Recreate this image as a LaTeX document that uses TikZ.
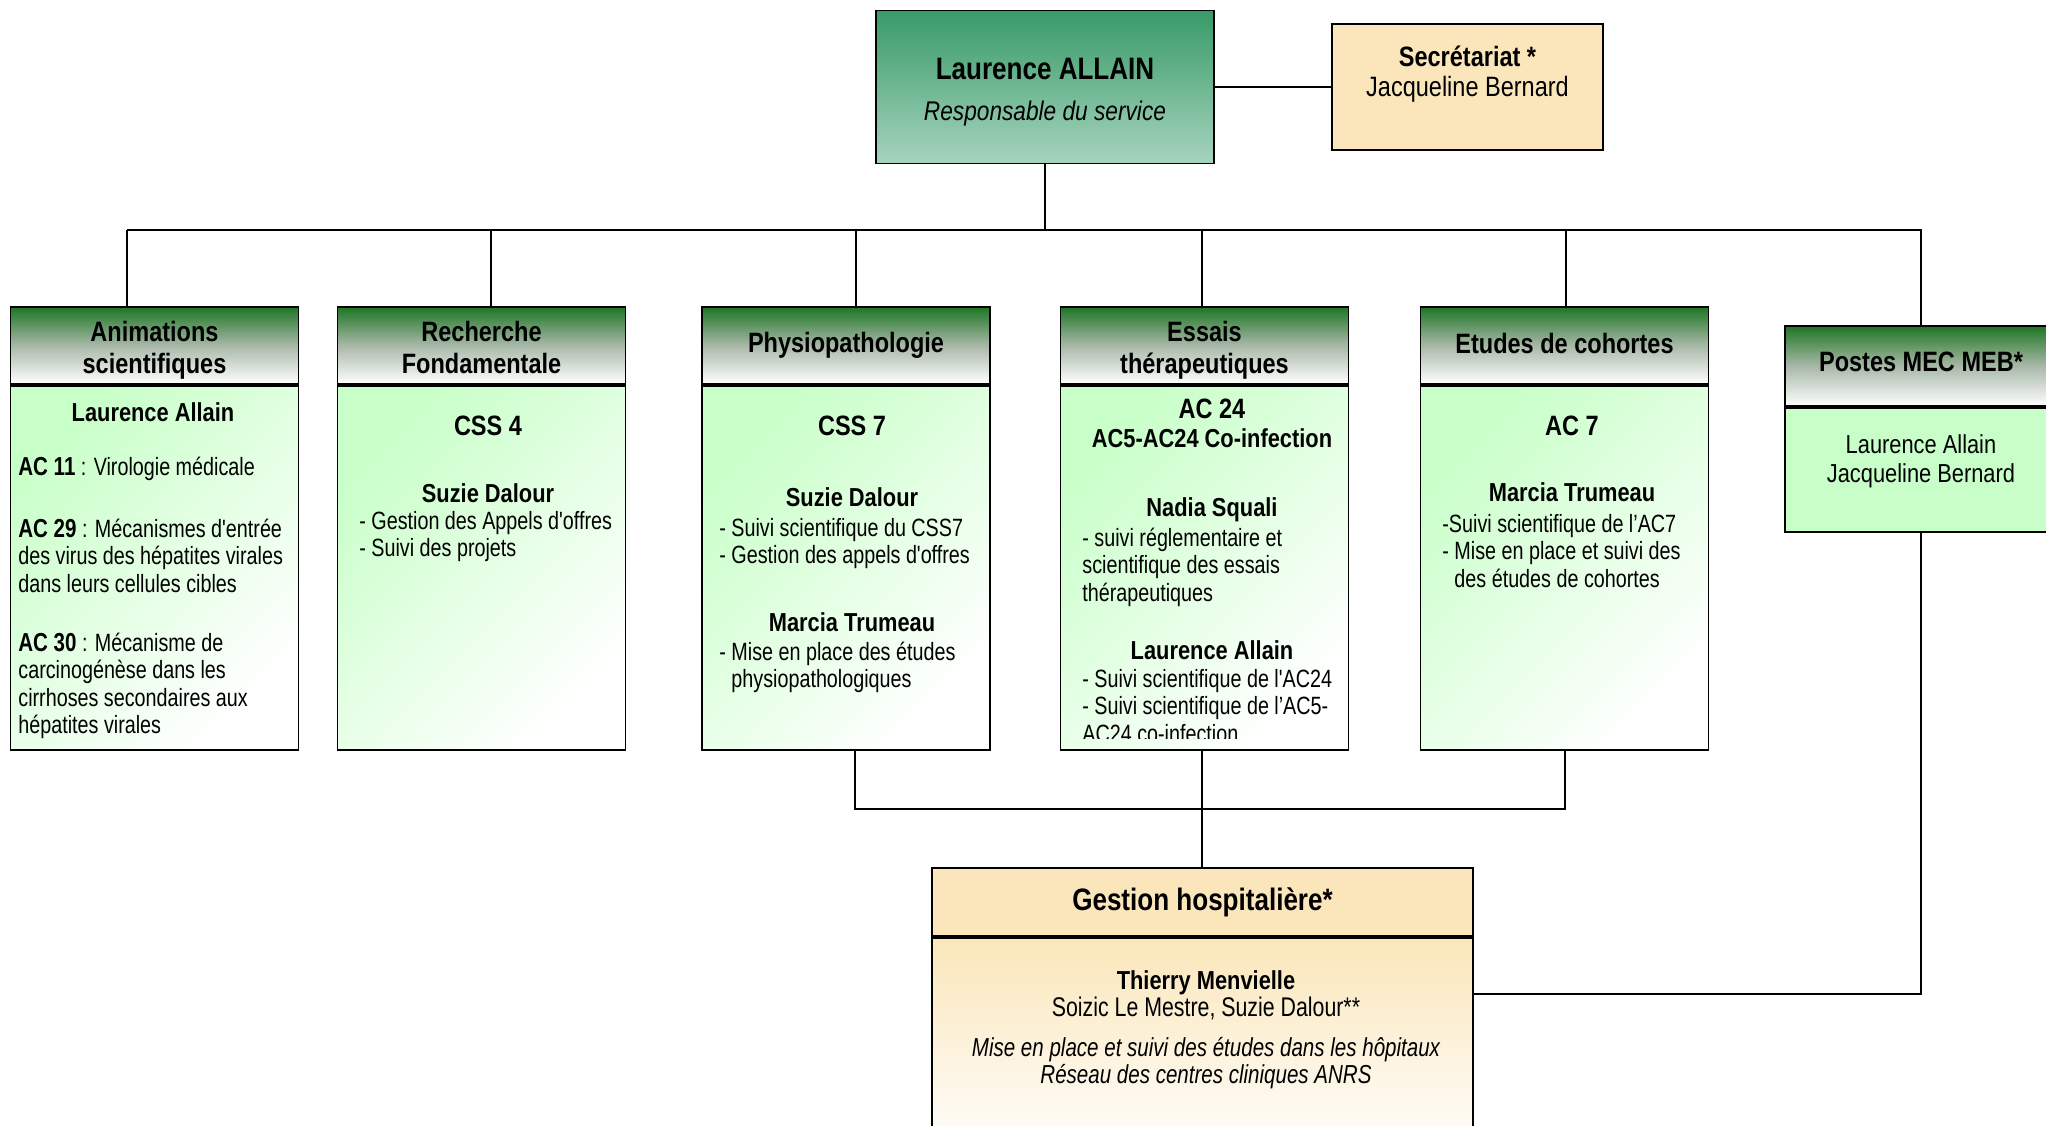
\documentclass[tikz,border=0pt]{standalone}
\usepackage{fontspec}
\setmainfont{Liberation Sans}[FakeStretch=0.84]
\newfontfamily\narrowfont{Liberation Sans}[FakeStretch=0.79]
\usetikzlibrary{positioning}

\definecolor{hdgreen}{RGB}{30,118,36}
\definecolor{hdgrey}{RGB}{168,184,168}
\definecolor{bodygreen}{RGB}{200,255,200}
\definecolor{topgreen}{RGB}{56,154,104}
\definecolor{toplight}{RGB}{166,212,190}
\definecolor{sand}{RGB}{250,230,186}

\newcommand\hdfont{\fontsize{14}{16}\selectfont\bfseries}
\newcommand\txtfont{\narrowfont\fontsize{12.5}{13.7}\selectfont}
\newcommand\acfont{\fontsize{13}{13.7}\selectfont\bfseries}

\tikzset{
  line/.style={line width=0.9pt},
  hdbox/.style={draw, line width=0.9pt, top color=hdgreen, bottom color=white,
    middle color=hdgrey, minimum width=144pt, minimum height=38.5pt, inner sep=0pt},
  hdtext/.style={inner sep=0pt, align=center, font=\hdfont},
  bodybox/.style={draw, line width=0.9pt, top color=bodygreen, bottom color=white,
    shading angle=45, minimum width=144pt, minimum height=182pt, inner sep=0pt},
  txt/.style={inner sep=0pt, font=\txtfont},
  block/.style={txt, anchor=north west, align=left},
  who/.style={inner sep=0pt, anchor=mid, font=\fontsize{13}{14}\selectfont\bfseries},
  code/.style={inner sep=0pt, anchor=mid, font=\fontsize{14}{15}\selectfont\bfseries},
}

\begin{document}
\begin{tikzpicture}[x=0.5pt,y=-0.5pt]
\useasboundingbox (0,0) rectangle (2046,1125);

% direction
\node (chef) at (1045,87) [draw, line width=0.9pt, top color=topgreen, bottom color=toplight,
  minimum width=169pt, minimum height=76.5pt] {};
\node (chefname) at (1045,74) [inner sep=0pt, anchor=mid, font=\fontsize{15.5}{16}\selectfont\bfseries] {Laurence ALLAIN};
\node (chefrole) at (1045,115) [inner sep=0pt, anchor=mid, font=\fontsize{13.5}{14}\selectfont\itshape] {Responsable du service};

\node (secr) at (1467.5,87) [draw, line width=0.9pt, fill=sand,
  minimum width=135.5pt, minimum height=63pt] {};
\node (secrtitle) at (1467.5,61) [inner sep=0pt, anchor=mid, font=\fontsize{14}{15}\selectfont\bfseries] {Secrétariat *};
\node (secrname) at (1467.5,91) [inner sep=0pt, anchor=mid, font=\fontsize{14}{15}\selectfont] {Jacqueline Bernard};

% poles
\node (h1) at (154.5,345.5) [hdbox] {};
\node (h2) at (481.5,345.5) [hdbox] {};
\node (h3) at (846,345.5) [hdbox] {};
\node (h4) at (1204.5,345.5) [hdbox] {};
\node (h5) at (1564.5,345.5) [hdbox] {};
\foreach \i in {1,...,5}
  \node (b\i) [bodybox, below=0pt of h\i] {};
\node (t1h) at (154.5,350.5) [hdtext] {Animations\\scientifiques};
\node (t2h) at (481.5,347.5) [hdtext] {Recherche\\Fondamentale};
\node (t3h) at (846,345.5) [hdtext] {Physiopathologie};
\node (t4h) at (1204.5,350.5) [hdtext] {Essais\\thérapeutiques};
\node (t5h) at (1564.5,343) [hdtext] {Etudes de cohortes};

\node (hp) at (1921,366) [hdbox, minimum width=136pt, minimum height=40pt] {};
\node (bp) [draw, line width=0.9pt, fill=bodygreen, minimum width=136pt, minimum height=62pt,
  below=0pt of hp] {};
\node (tph) at (1921,362) [hdtext] {Postes MEC MEB*};

% gestion hospitaliere
\node (gh) at (1202.5,902) [draw, line width=0.9pt, fill=sand, minimum width=270.5pt,
  minimum height=34pt, font=\fontsize{15.5}{16}\selectfont\bfseries] {Gestion hospitalière*};
\node (gb) [draw, line width=0.9pt, top color=sand, bottom color=white, minimum width=270.5pt,
  minimum height=110pt, below=0pt of gh] {};

% box 1
\node (t11) at (153,416) [who] {Laurence Allain};
\node (t12) at (18,470) [txt, anchor=mid west] {{\acfont AC 11} : Virologie médicale};
\node (t13) at (18,518) [block] {\strut{\acfont AC 29} : Mécanismes d'entrée\\des virus des hépatites virales\\dans leurs cellules cibles};
\node (t14) at (18,632) [block] {\strut{\acfont AC 30} : Mécanisme de\\carcinogénèse dans les\\cirrhoses secondaires aux\\hépatites virales};

% box 2
\node (t21) at (488,430) [code] {CSS 4};
\node (t22) at (488,497) [who] {Suzie Dalour};
\node (t23) at (359,510) [block] {\strut- Gestion des Appels d'offres\\- Suivi des projets};

% box 3
\node (t31) at (852,430) [code] {CSS 7};
\node (t32) at (852,501) [who] {Suzie Dalour};
\node (t33) at (719,517) [block] {\strut- Suivi scientifique du CSS7\\- Gestion des appels d'offres};
\node (t34) at (852,626) [who] {Marcia Trumeau};
\node (t35) at (719,641) [block] {\strut- Mise en place des études\\\phantom{- }physiopathologiques};

% box 4
\node (t41) at (1212,413) [code] {AC 24};
\node (t42) at (1212,442) [who] {AC5-AC24 Co-infection};
\node (t43) at (1212,511) [who] {Nadia Squali};
\node (t44) at (1082,527) [block] {\strut- suivi réglementaire et\\scientifique des essais\\thérapeutiques};
\node (t45) at (1212,654) [who] {Laurence Allain};
\begin{scope}
  \clip (1061,600) rectangle (1348,738);
  \node (t46) at (1082,668) [block] {\strut- Suivi scientifique de l'AC24\\- Suivi scientifique de l’AC5-\\AC24 co-infection};
\end{scope}

% box 5
\node (t51) at (1572,430) [code] {AC 7};
\node (t52) at (1572,496) [who] {Marcia Trumeau};
\node (t53) at (1442,513) [block] {\strut-Suivi scientifique de l’AC7\\- Mise en place et suivi des\\\phantom{- }des études de cohortes};

% postes
\node (tp) at (1921,433) [txt, anchor=north, align=center, font=\fontsize{13}{14.5}\selectfont]
  {\strut Laurence Allain\\Jacqueline Bernard};

% gestion text
\node (tg1) at (1206,984) [who, font=\fontsize{13}{14}\selectfont\bfseries] {Thierry Menvielle};
\node (tg2) at (1206,1011) [txt, anchor=mid, font=\narrowfont\fontsize{13.5}{14}\selectfont] {Soizic Le Mestre, Suzie Dalour**};
\node (tg3) at (1206,1051) [txt, anchor=mid, font=\narrowfont\fontsize{13}{14}\selectfont\itshape] {Mise en place et suivi des études dans les hôpitaux};
\node (tg4) at (1206,1078) [txt, anchor=mid, font=\narrowfont\fontsize{13}{14}\selectfont\itshape] {Réseau des centres cliniques ANRS};

% connectors
\draw[line] (chef.east) -- (secr.west);
\coordinate (d1) at (127,230);
\coordinate (d2) at (491,230);
\coordinate (d3) at (856,230);
\coordinate (d4) at (1202,230);
\coordinate (d5) at (1566,230);
\coordinate (d6) at (1921,230);
\draw[line] (chef.south) -- (chef.south |- d1);
\draw[line] (d1) -- (d6) -- (hp.north);
\foreach \i in {1,...,5}
  \draw[line] (d\i) -- (d\i |- h\i.north);

\coordinate (u3) at (855,809);
\coordinate (u4) at (1202,809);
\coordinate (u5) at (1565,809);
\draw[line] (u3 |- b3.south) -- (u3) -- (u5) -- (u5 |- b5.south);
\draw[line] (u4 |- b4.south) -- (u4 |- gh.north);

\coordinate (k) at (1921,994);
\draw[line] (k -| gb.east) -- (k) -- (bp.south);
\end{tikzpicture}
\end{document}
